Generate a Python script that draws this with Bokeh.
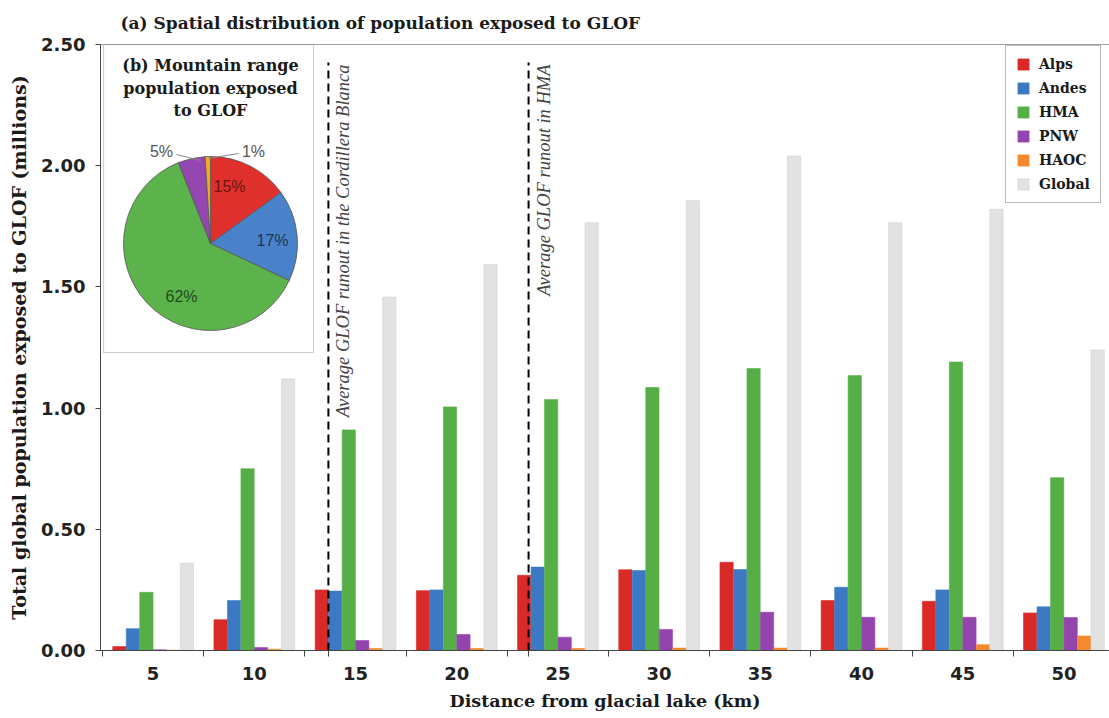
import numpy as np
from bokeh.plotting import figure
from bokeh.models import (FixedTicker, PrintfTickFormatter, Span, BoxAnnotation,
                          Title, ColumnDataSource, Range1d)
from bokeh.core.properties import value
from bokeh.embed import file_html
from bokeh.resources import INLINE

# ---------------- data ----------------
distances = [5, 10, 15, 20, 25, 30, 35, 40, 45, 50]
alps   = [0.016, 0.127, 0.250, 0.247, 0.310, 0.333, 0.364, 0.206, 0.203, 0.155]
andes  = [0.090, 0.206, 0.245, 0.250, 0.344, 0.330, 0.334, 0.261, 0.250, 0.180]
hma    = [0.240, 0.750, 0.910, 1.005, 1.035, 1.085, 1.163, 1.134, 1.190, 0.713]
pnw    = [0.003, 0.012, 0.041, 0.066, 0.055, 0.087, 0.158, 0.137, 0.137, 0.136]
haoc   = [0.001, 0.005, 0.008, 0.008, 0.008, 0.010, 0.010, 0.010, 0.024, 0.060]
global_ = [0.360, 1.120, 1.458, 1.592, 1.765, 1.856, 2.040, 1.765, 1.820, 1.240]

series_names = ["Alps", "Andes", "HMA", "PNW", "HAOC", "Global"]
series_vals = [alps, andes, hma, pnw, haoc, global_]
bar_colors = ["#da2a27", "#3c79c5", "#56ae46", "#9444ad", "#f58a2c", "#e2e2e2"]

pie_names = ["Alps", "Andes", "HMA", "PNW", "HAOC"]
pie_share = [15, 17, 62, 5, 1]
pie_labels = ["15%", "17%", "62%", "5%", "1%"]
pie_colors = ["#e0302b", "#4a82ca", "#5db34b", "#9447b0", "#f5a623"]

runout_km = [13.66, 23.55]
runout_text = ["Average GLOF runout in the Cordillera Blanca", "Average GLOF runout in HMA"]

y_ticks = [0.0, 0.5, 1.0, 1.5, 2.0, 2.5]

title_text = "(a) Spatial distribution of population exposed to GLOF"

# ---------------- geometry (page px -> data) ----------------
W, H = 1109, 718
FRAME_L, FRAME_T, FRAME_B = 100, 44, 650
KM_PX = 20.24
X_START = 2.4
X_END = X_START + (W - FRAME_L) / KM_PX
Y_PX = (FRAME_B - FRAME_T) / 2.5

def px2x(px):
    return X_START + (px - FRAME_L) / KM_PX

def px2y(py):
    return (FRAME_B - py) / Y_PX

SERIF_B = "DejaVu Serif"

p = figure(width=W, height=H, output_backend="svg", toolbar_location=None,
           x_range=Range1d(X_START, X_END), y_range=Range1d(0, 2.5),
           min_border_left=FRAME_L, min_border_right=0,
           min_border_top=FRAME_T, min_border_bottom=H - FRAME_B)
p.outline_line_color = None
p.grid.visible = False
p.background_fill_color = "white"
p.border_fill_color = "white"

p.title = Title(text=title_text, align="left", offset=20, vertical_align="top",
                text_font=SERIF_B, standoff=20,
                text_font_size="17px", text_font_style="bold", text_color="#1a1a1a")

# inset box (under glyphs)
box = BoxAnnotation(left=px2x(103), right=px2x(313), top=2.5, bottom=px2y(352),
                    fill_color="white", fill_alpha=1.0, line_color="#666666",
                    line_width=1.2, level="underlay")
p.add_layout(box)

# bars
bw = 13.5 / KM_PX
for i, (name, vals, col) in enumerate(zip(series_names, series_vals, bar_colors)):
    xs = [d + (i - 2.5) * bw for d in distances]
    line_col = "#d2d2d2" if name == "Global" else col
    p.vbar(x=xs, top=vals, width=bw * 0.98, bottom=0, fill_color=col,
           line_color=line_col, line_width=0.6, legend_label=name)

# runout lines
p.segment(x0=runout_km, y0=[0, 0], x1=runout_km, y1=[px2y(62)] * 2,
          line_color="black", line_width=2, line_dash="8 5")
p.text(x=[r + 5 / KM_PX for r in runout_km], y=[px2y(64)] * 2, text=runout_text,
       angle=np.pi / 2, text_align="right", text_baseline="top",
       text_font=value("Liberation Serif"), text_font_style="italic",
       text_font_size="18.5px", text_color="#444444")

# top frame line
p.add_layout(Span(location=2.5, dimension="width", line_color="#444444", line_width=1.2))

# inset titles
p.text(x=[px2x(210)] * 3, y=[px2y(65), px2y(88), px2y(110)],
       text=["(b) Mountain range", "population exposed", "to GLOF"],
       text_align="center", text_baseline="middle",
       text_font=value(SERIF_B), text_font_style="bold",
       text_font_size="16px", text_color="#1a1a1a")

# pie
cx, cy = px2x(210), px2y(243)
cum = np.cumsum([0] + pie_share)
starts = [np.pi / 2 - 2 * np.pi * c / 100 for c in cum[:-1]]
ends = [np.pi / 2 - 2 * np.pi * c / 100 for c in cum[1:]]
pie_src = ColumnDataSource(dict(x=[cx] * 5, y=[cy] * 5, s=starts, e=ends, c=pie_colors))
p.wedge(x="x", y="y", radius=87, radius_units="screen", start_angle="s", end_angle="e",
        direction="clock", fill_color="c", line_color="#555555", line_width=0.8,
        source=pie_src)

lab_px = [(229, 186), (272, 240), (181, 296), (161, 151), (253, 151)]
lab_col = ["#6b1410", "#1d3557", "#1f4d1c", "#555555", "#555555"]
p.text(x=[px2x(a) for a, b in lab_px], y=[px2y(b) for a, b in lab_px], text=pie_labels,
       text_align="center", text_baseline="middle", text_color=lab_col,
       text_font=value("Liberation Sans"), text_font_size="16px")
# leader lines for small slices
p.segment(x0=[px2x(176), px2x(238)], y0=[px2y(154), px2y(153)],
          x1=[px2x(200), px2x(208)], y1=[px2y(160), px2y(158)],
          line_color="#888888", line_width=1)

# axes
xa = p.xaxis[0]
xa.ticker = FixedTicker(ticks=distances,
                        minor_ticks=[d - 2.5 for d in distances] + [52.5] + runout_km)
xa.major_tick_line_color = None
xa.major_tick_out = 6
xa.minor_tick_out = 6
xa.minor_tick_in = 0
xa.minor_tick_line_color = "#444444"
xa.axis_line_color = "#444444"
xa.major_label_standoff = 10
xa.major_label_text_font = "DejaVu Sans"
xa.major_label_text_font_style = "bold"
xa.major_label_text_font_size = "18px"
xa.major_label_text_color = "#222222"
xa.axis_label = "Distance from glacial lake (km)"
xa.axis_label_text_font = SERIF_B
xa.axis_label_text_font_style = "bold"
xa.axis_label_text_font_size = "17.5px"
xa.axis_label_text_color = "#1a1a1a"
xa.axis_label_standoff = 8

ya = p.yaxis[0]
ya.ticker = FixedTicker(ticks=y_ticks)
ya.formatter = PrintfTickFormatter(format="%.2f")
ya.major_tick_out = 5
ya.major_tick_in = 0
ya.minor_tick_line_color = None
ya.major_tick_line_color = "#444444"
ya.axis_line_color = "#444444"
ya.major_label_standoff = 10
ya.major_label_text_font = "DejaVu Sans"
ya.major_label_text_font_style = "bold"
ya.major_label_text_font_size = "18px"
ya.major_label_text_color = "#222222"
ya.axis_label = "Total global population exposed to GLOF (millions)"
ya.axis_label_text_font = SERIF_B
ya.axis_label_text_font_style = "bold"
ya.axis_label_text_font_size = "19px"
ya.axis_label_text_color = "#1a1a1a"
ya.axis_label_standoff = 8

# legend
lg = p.legend[0]
lg.location = (905, 447)
lg.padding = 10
lg.spacing = 8
lg.glyph_width = 14
lg.glyph_height = 14
lg.label_height = 16
lg.label_width = 50
lg.label_standoff = 9
lg.label_text_font = SERIF_B
lg.label_text_font_style = "bold"
lg.label_text_font_size = "14px"
lg.label_text_color = "#1a1a1a"
lg.border_line_color = "#777777"
lg.border_line_width = 1
lg.background_fill_alpha = 1.0
lg.margin = 0

open("out.html", "w").write(file_html(p, INLINE))
